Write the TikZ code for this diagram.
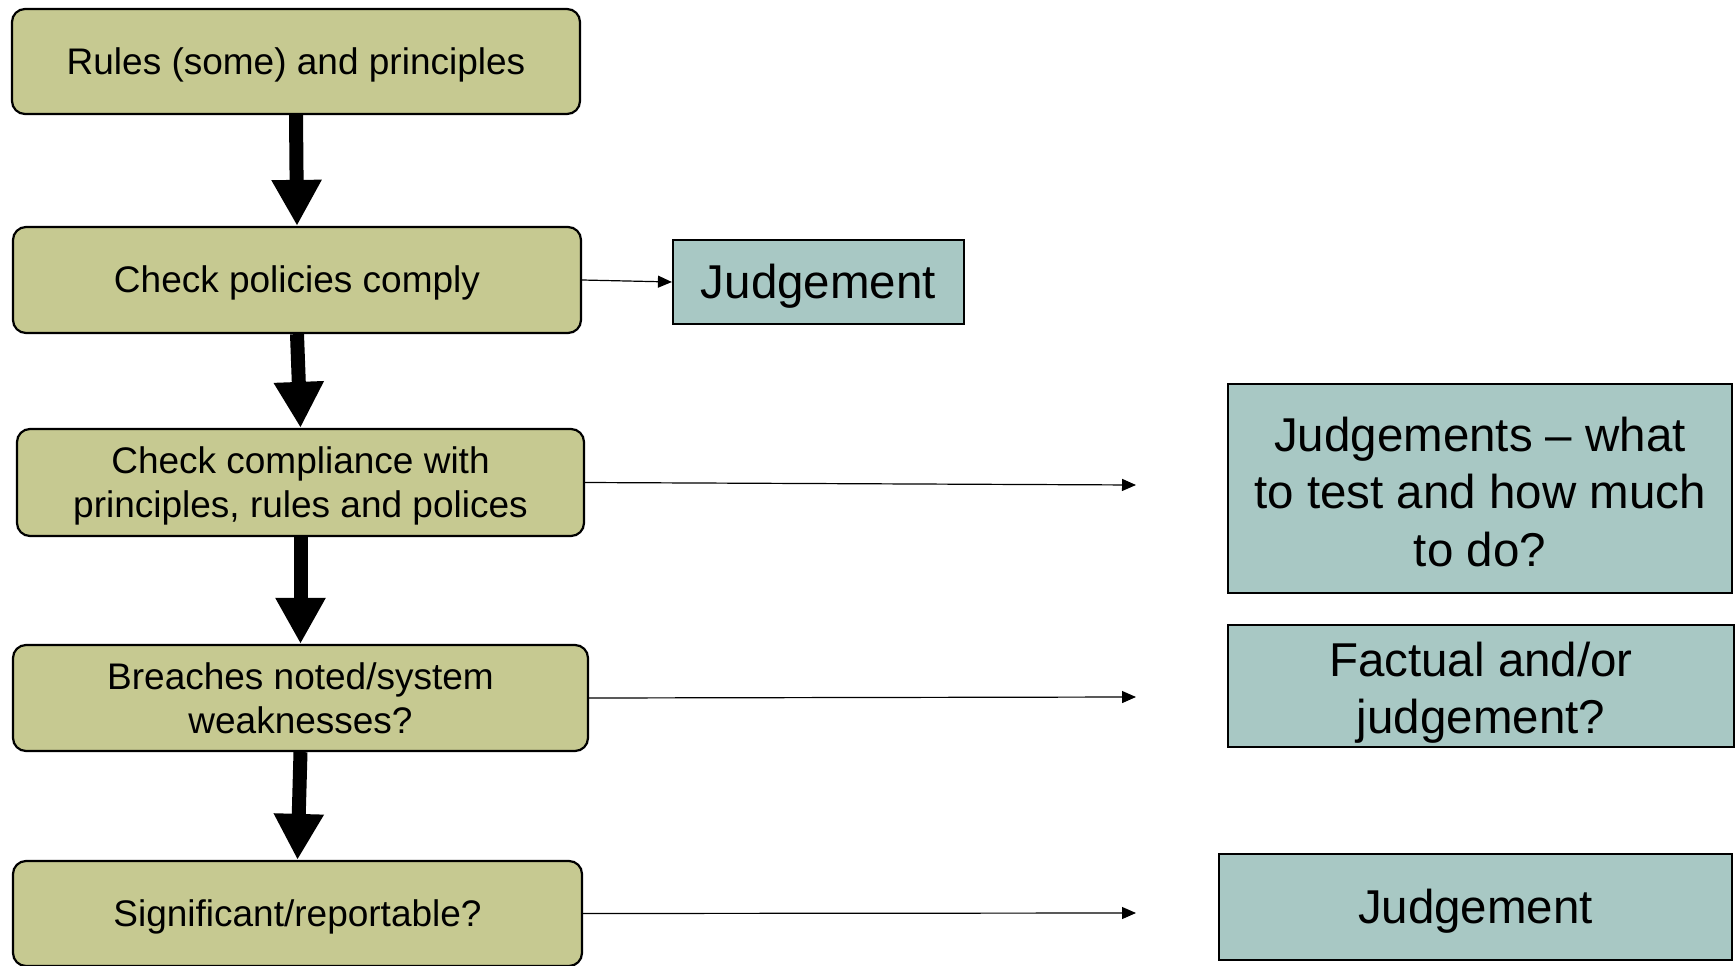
\documentclass[tikz,border=0pt]{standalone}
\usepackage{fontspec}
\setmainfont{Liberation Sans}
\usetikzlibrary{arrows.meta}
\definecolor{boxolive}{RGB}{198,201,145}
\definecolor{boxteal}{RGB}{168,200,196}
\newcommand{\topstrut}[1]{\rule{0pt}{#1}}
\begin{document}
\begin{tikzpicture}[x=1pt,y=-1pt,
  stepbox/.style={draw=black, line width=2.2pt, rounded corners=13pt, fill=boxolive,
    align=center, inner sep=0pt, font=\fontsize{37}{44}\selectfont},
  judgebox/.style={draw=black, line width=2.2pt, fill=boxteal,
    align=center, inner sep=0pt, font=\fontsize{47.5}{57.5}\selectfont},
  stepline/.style={execute at begin node={\rule{0pt}{33.5pt}},
    execute at end node={\rule[-7.8pt]{0pt}{0pt}}},
  judgeline/.style={execute at begin node={\rule{0pt}{43pt}},
    execute at end node={\rule[-10.1pt]{0pt}{0pt}}},
  bigarrow/.style={line width=14pt, -{Triangle[width=47pt,length=46pt]}},
  thinarrow/.style={line width=1.2pt, -{Triangle[width=12pt,length=14pt]}}]
\useasboundingbox (0,0) rectangle (1735,966);

\node[stepbox, stepline, minimum width=568pt, minimum height=105pt] (b1) at (296,61.5) {Rules (some) and principles};
\node[stepbox, stepline, minimum width=568pt, minimum height=106pt] (b2) at (297,280) {Check policies comply};
\node[stepbox, minimum width=567pt, minimum height=107pt] (b3) at (300.5,482.5) {\topstrut{33.5pt}Check compliance with\\principles, rules and polices};
\node[stepbox, minimum width=575pt, minimum height=106pt] (b4) at (300.5,698) {Breaches noted/system\\weaknesses?};
\node[stepbox, stepline, minimum width=569pt, minimum height=105pt] (b5) at (297.5,913.5) {Significant/reportable?};

\node[judgebox, judgeline, minimum width=291pt, minimum height=84pt] (j1) at (818.5,282) {Judgement};
\node[judgebox, minimum width=504pt, minimum height=209pt] (j2) at (1480,488.5) {\topstrut{41pt}Judgements -- what\\to test and how much\\to do?};
\node[judgebox, minimum width=506pt, minimum height=122pt] (j3) at (1481,686) {\topstrut{48pt}Factual and/or\\judgement?};
\node[judgebox, judgeline, minimum width=513pt, minimum height=106pt] (j4) at (1475.5,907) {Judgement};

\coordinate (c3) at (1136,485);
\coordinate (c4) at (1136,697);
\coordinate (c5) at (1136,913);

\draw[bigarrow] (b1.south) -- (b2.north);
\draw[bigarrow] (b2.south) -- (b3.north);
\draw[bigarrow] (b3.south) -- (b4.north);
\draw[bigarrow] (b4.south) -- (b5.north);

\draw[thinarrow] (b2.east) -- (j1.west);
\draw[thinarrow] (b3.east) -- (c3);
\draw[thinarrow] (b4.east) -- (c4);
\draw[thinarrow] (b5.east) -- (c5);
\end{tikzpicture}
\end{document}
